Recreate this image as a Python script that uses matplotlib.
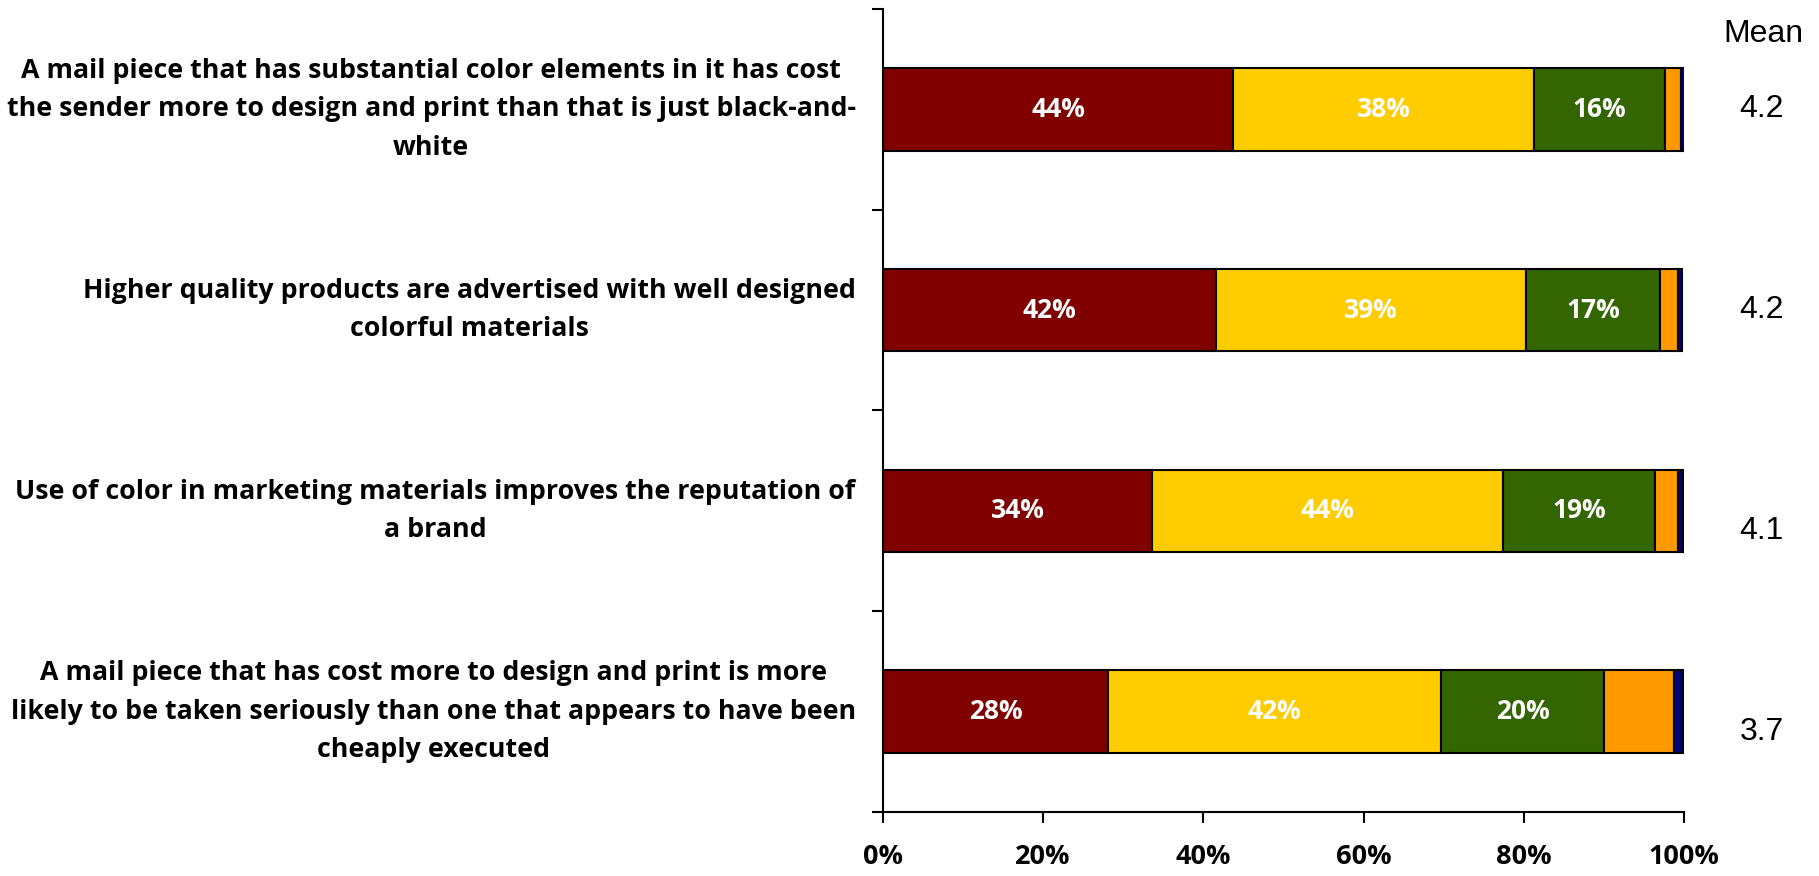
import matplotlib
matplotlib.use("Agg")
import matplotlib.pyplot as plt
import numpy as np

# Statements and response shares (%), top to bottom
statements = [
    "A mail piece that has substantial color elements in it has cost\nthe sender more to design and print than that is just black-and-\nwhite",
    "Higher quality products are advertised with well designed\ncolorful materials",
    "Use of color in marketing materials improves the reputation of\na brand",
    "A mail piece that has cost more to design and print is more\nlikely to be taken seriously than one that appears to have been\ncheaply executed",
]
strongly_agree = [43.7, 41.6, 33.6, 28.1]
agree = [37.6, 38.7, 43.8, 41.6]
neutral = [16.3, 16.7, 19.0, 20.3]
disagree = [2.0, 2.2, 2.9, 8.7]
strongly_disagree = [0.4, 0.6, 0.6, 1.2]
means = [4.2, 4.2, 4.1, 3.7]

series = [strongly_agree, agree, neutral, disagree, strongly_disagree]
colors = ["#800000", "#FFCC00", "#336600", "#FF9900", "#000080"]
show_label = [True, True, True, False, False]

fig = plt.figure(figsize=(18.19, 8.76), dpi=100)
ax = fig.add_axes([0.4854, 0.0731, 0.4404, 0.9166])

y = np.arange(len(statements))
left = np.zeros(len(statements))
for vals, col, lab in zip(series, colors, show_label):
    vals = np.array(vals)
    ax.barh(y, vals, left=left, height=0.41, color=col,
            edgecolor="black", linewidth=1.5)
    if lab:
        for yi, l, v in zip(y, left, vals):
            ax.text(l + v / 2, yi, f"{v:.0f}%", ha="center", va="center",
                    color="white", fontsize=19, fontweight="bold",
                    family="Open Sans")
    left += vals

ax.set_xlim(0, 100)
ax.set_ylim(len(statements) - 0.5, -0.5)
ax.set_xticks(np.arange(0, 101, 20))
ax.set_xticklabels([f"{t}%" for t in range(0, 101, 20)],
                   fontsize=19.5, fontweight="bold", family="Open Sans")
ax.set_yticks(np.arange(-0.5, len(statements), 1.0))
ax.set_yticklabels([])
ax.tick_params(axis="x", direction="out", length=8, width=1.5, pad=15)
ax.tick_params(axis="y", direction="out", length=8, width=1.5)
for s in ["top", "right"]:
    ax.spines[s].set_visible(False)
for s in ["left", "bottom"]:
    ax.spines[s].set_linewidth(1.5)

# statement labels to the left of the bars
for yi, txt in zip(y, statements):
    ax.text(-0.034, yi, txt, transform=ax.get_yaxis_transform(),
            ha="right", va="center", multialignment="center",
            fontsize=19.3, fontweight="bold", family="Open Sans",
            linespacing=1.62)

# mean column
mean_offsets = [0.0, 0.0, 0.1, 0.1]
fig.text(0.9695, 0.952, "Mean", ha="center", va="baseline",
         fontsize=23, family="Liberation Sans")
for yi, m, off in zip(y, means, mean_offsets):
    ax.text(1.097, yi + off, f"{m:.1f}", transform=ax.get_yaxis_transform(),
            ha="center", va="center", fontsize=23, family="Liberation Sans")

fig.savefig("out.png", dpi=100)
